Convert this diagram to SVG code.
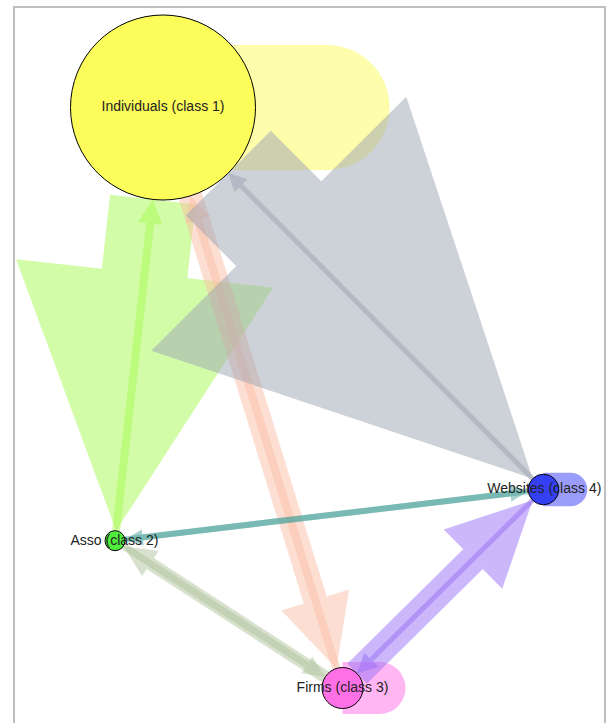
<svg xmlns="http://www.w3.org/2000/svg" width="607" height="723" viewBox="0 0 607 723">
<style>
.frame{fill:none;stroke:#bfbfbf;stroke-width:2}
.gray{fill:#9ba3b1;stroke:#9ba3b1}
.green{fill:#a7f951;stroke:#a7f951}
.salmon{fill:#fbbda5;stroke:#fbbda5}
.purple{fill:#976ff5;stroke:#976ff5}
.teal{fill:#4ba29b;stroke:#4ba29b}
.sage{fill:#afc39b;stroke:#afc39b}
#connectors polygon,#connectors path{stroke:none;fill-opacity:0.5}
#connectors line{fill:none;stroke-opacity:0.5;stroke-linecap:butt}
.node{stroke:#000;stroke-width:1}
.lbl{font-family:"Liberation Sans",Arial,sans-serif;font-size:14px;fill:#222;text-anchor:middle}
</style>
<rect class="frame" x="14" y="7" width="591" height="730"/>
<g id="connectors">
  <!-- self loops -->
  <path fill="#fcfc5a" d="M163,45 H327 A62.5,62.5 0 0 1 327,170 H163 Z"/>
  <path fill="#ff6ee6" d="M342.5,662 H379.5 A26,26 0 0 1 379.5,714 H342.5 Z"/>
  <path fill="#373cfa" d="M543.5,472.8 H570.6 A16.7,16.7 0 0 1 570.6,506.2 H543.5 Z"/>
  <!-- Individuals -> Asso (big) -->
  <polygon class="green" points="195.55,204.18 110.07,194.70 101.87,268.74 187.35,278.22"/>
  <polygon class="green" points="273.13,287.72 16.09,259.24 116.1,530.76"/>
  <!-- Asso -> Individuals -->
  <line class="green" x1="116.1" y1="530.76" x2="150.17" y2="223.29" stroke-width="8"/>
  <polygon class="green" points="152.81,199.44 162.4,224.65 137.95,221.94"/>
  <!-- Individuals -> Firms -->
  <polygon class="salmon" points="201.79,192.33 178.87,199.42 303.82,603.53 326.74,596.44"/>
  <polygon class="salmon" points="349.1,589.53 281.46,610.45 336.44,668.42"/>
  <!-- Firms -> Individuals -->
  <line class="salmon" x1="336.44" y1="668.42" x2="197.71" y2="219.76" stroke-width="8"/>
  <polygon class="salmon" points="190.33,195.87 209.65,216.07 185.77,223.45"/>
  <!-- Individuals -> Websites -->
  <polygon class="gray" points="270.79,130.70 185.77,215.38 236.23,266.03 321.25,181.35"/>
  <polygon class="gray" points="406.27,96.66 151.21,350.72 532.71,478.66"/>
  <!-- Websites -> Individuals -->
  <line class="gray" x1="532.71" y1="478.66" x2="240.98" y2="185.79" stroke-width="5"/>
  <polygon class="gray" points="228.28,173.04 247.5,179.3 234.46,192.28"/>
  <!-- Firms -> Websites -->
  <polygon class="purple" points="366.93,683.55 347.25,663.63 463.15,549.17 482.83,569.09"/>
  <polygon class="purple" points="502.22,588.73 443.76,529.53 532.61,500.25"/>
  <!-- Websites -> Firms -->
  <line class="purple" x1="532.61" y1="500.25" x2="371.32" y2="659.54" stroke-width="5"/>
  <polygon class="purple" points="357.09,673.59 378.35,666.66 364.29,652.42"/>
  <!-- Asso -> Websites -->
  <line class="teal" x1="124.93" y1="539.51" x2="510.43" y2="493.45" stroke-width="6"/>
  <polygon class="teal" points="528.31,491.32 511.38,501.39 509.48,485.51"/>
  <!-- Websites -> Asso -->
  <line class="teal" x1="528.31" y1="491.32" x2="142.8" y2="537.38" stroke-width="6"/>
  <polygon class="teal" points="124.93,539.51 143.75,545.32 141.85,529.44"/>
  <!-- Firms -> Asso -->
  <line class="sage" x1="325.29" y1="676.86" x2="150.26" y2="563.53" stroke-width="13"/>
  <polygon class="sage" points="123.39,546.14 158.41,550.94 142.11,576.12"/>
  <!-- Asso -> Firms -->
  <line class="sage" x1="123.39" y1="546.14" x2="306.82" y2="664.9" stroke-width="7"/>
  <polygon class="sage" points="325.29,676.86 312.26,656.51 301.38,673.29"/>
</g>
<g id="node-individuals">
  <circle class="node" cx="163" cy="107.5" r="92.5" fill="#fcfc5a"/>
  <text class="lbl" x="163" y="111">Individuals (class 1)</text>
</g>
<g id="node-asso">
  <circle class="node" cx="115" cy="540.7" r="10" fill="#50ee3c"/>
  <text class="lbl" x="114.5" y="545">Asso (class 2)</text>
</g>
<g id="node-firms">
  <circle class="node" cx="342.5" cy="688" r="20.5" fill="#ff70e6"/>
  <text class="lbl" x="342.5" y="692">Firms (class 3)</text>
</g>
<g id="node-websites">
  <circle class="node" cx="543.5" cy="489.5" r="15.3" fill="#3540f5"/>
  <text class="lbl" x="544.3" y="493">Websites (class 4)</text>
</g>
</svg>
